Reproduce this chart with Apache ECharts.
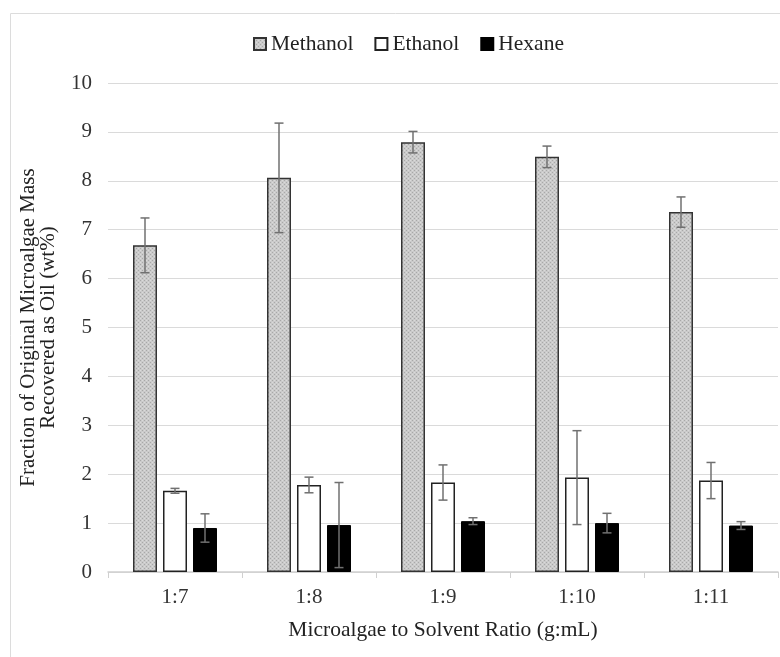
<!DOCTYPE html>
<html>
<head>
<meta charset="utf-8">
<script src="https://cdn.jsdelivr.net/npm/echarts@6/dist/echarts.min.js"></script>
<style>
	html, body { margin: 0; padding: 0; background: #fff; }
	#main { width: 780px; height: 657px; }
</style>
</head>
<body>
<div id="main"></div>
<script>
// 数据
var categories = ['1:7', '1:8', '1:9', '1:10', '1:11'];
var methanol = [6.68, 8.06, 8.79, 8.49, 7.36];
var methanolErr = [0.56, 1.12, 0.22, 0.22, 0.31];
var ethanol = [1.66, 1.78, 1.83, 1.93, 1.87];
var ethanolErr = [0.05, 0.16, 0.36, 0.96, 0.37];
var hexane = [0.90, 0.96, 1.04, 1.00, 0.95];
var hexaneErr = [0.29, 0.87, 0.07, 0.20, 0.08];
var yTicks = [0, 10, 1]; // min, max, interval

var font = 'Liberation Serif';
var barW = 24;
var barStep = 30; // 柱宽 + 间隙

// 甲醇柱的点状灰色填充
function dotPattern() {
	var c = document.createElement('canvas');
	c.width = 4;
	c.height = 4;
	var ctx = c.getContext('2d');
	ctx.fillStyle = '#cacaca';
	ctx.fillRect(0, 0, 4, 4);
	ctx.fillStyle = '#a8a8a8';
	ctx.fillRect(0, 0, 1, 1);
	ctx.fillRect(2, 2, 1, 1);
	ctx.fillStyle = '#dadada';
	ctx.fillRect(2, 0, 1, 1);
	ctx.fillRect(0, 2, 1, 1);
	return { image: c, repeat: 'repeat' };
}

// 误差线
function errSeries(name, vals, errs, idx) {
	var data = vals.map(function(v, i) { return [i, v, errs[i]]; });
	return {
		name: name,
		type: 'custom',
		z: 5,
		silent: true,
		data: data,
		renderItem: function(params, api) {
			var i = api.value(0);
			var v = api.value(1);
			var e = api.value(2);
			var top = api.coord([i, v + e]);
			var bot = api.coord([i, v - e]);
			var x = top[0] + (idx - 1) * barStep;
			var cap = 4.5;
			var st = { stroke: '#707070', lineWidth: 1.5 };
			return {
				type: 'group',
				children: [
					{ type: 'line', shape: { x1: x, y1: top[1], x2: x, y2: bot[1] }, style: st },
					{ type: 'line', shape: { x1: x - cap, y1: top[1], x2: x + cap, y2: top[1] }, style: st },
					{ type: 'line', shape: { x1: x - cap, y1: bot[1], x2: x + cap, y2: bot[1] }, style: st }
				]
			};
		}
	};
}

var chart = echarts.init(document.getElementById('main'));

var option = {
	animation: false,
	textStyle: { fontFamily: font },
	graphic: [{
		type: 'rect',
		shape: { x: 10.5, y: 13.5, width: 800, height: 700 },
		style: { fill: 'none', stroke: '#dcdcdc', lineWidth: 1 },
		silent: true
	}],
	legend: {
		data: ['Methanol', 'Ethanol', 'Hexane'],
		left: 248,
		top: 28,
		icon: 'rect',
		itemWidth: 12,
		itemHeight: 12,
		itemGap: 21,
		textStyle: { fontFamily: font, fontSize: 21.5, color: '#222' }
	},
	grid: {
		left: 108,
		right: 2,
		top: 83,
		bottom: 85
	},
	xAxis: {
		type: 'category',
		data: categories,
		name: 'Microalgae to Solvent Ratio (g:mL)',
		nameLocation: 'middle',
		nameGap: 47,
		nameTextStyle: { fontFamily: font, fontSize: 21.5, color: '#222' },
		axisLine: { lineStyle: { color: '#d0d0d0', width: 1.5 } },
		axisTick: { show: true, length: 6, lineStyle: { color: '#d0d0d0' } },
		axisLabel: { fontFamily: font, fontSize: 21, color: '#333', margin: 15 }
	},
	yAxis: {
		type: 'value',
		min: yTicks[0],
		max: yTicks[1],
		interval: yTicks[2],
		name: 'Fraction of Original Microalgae Mass\nRecovered as Oil (wt%)',
		nameLocation: 'middle',
		nameGap: 50,
		nameTextStyle: { fontFamily: font, fontSize: 21, color: '#222', lineHeight: 20 },
		axisLine: { show: false },
		axisTick: { show: false },
		axisLabel: { fontFamily: font, fontSize: 21, color: '#333', margin: 16 },
		splitLine: { lineStyle: { color: '#dadada', width: 1.2 } }
	},
	series: [{
		name: 'Methanol',
		type: 'bar',
		barWidth: barW,
		barGap: '25%',
		data: methanol,
		itemStyle: { color: dotPattern(), borderColor: '#333', borderWidth: 1.5 }
	}, {
		name: 'Ethanol',
		type: 'bar',
		barWidth: barW,
		barGap: '25%',
		data: ethanol,
		itemStyle: { color: '#fff', borderColor: '#222', borderWidth: 1.5 }
	}, {
		name: 'Hexane',
		type: 'bar',
		barWidth: barW,
		barGap: '25%',
		data: hexane,
		itemStyle: { color: '#000', borderColor: '#000', borderWidth: 1 }
	},
		errSeries('Methanol err', methanol, methanolErr, 0),
		errSeries('Ethanol err', ethanol, ethanolErr, 1),
		errSeries('Hexane err', hexane, hexaneErr, 2)
	]
};

chart.setOption(option);
</script>
</body>
</html>
